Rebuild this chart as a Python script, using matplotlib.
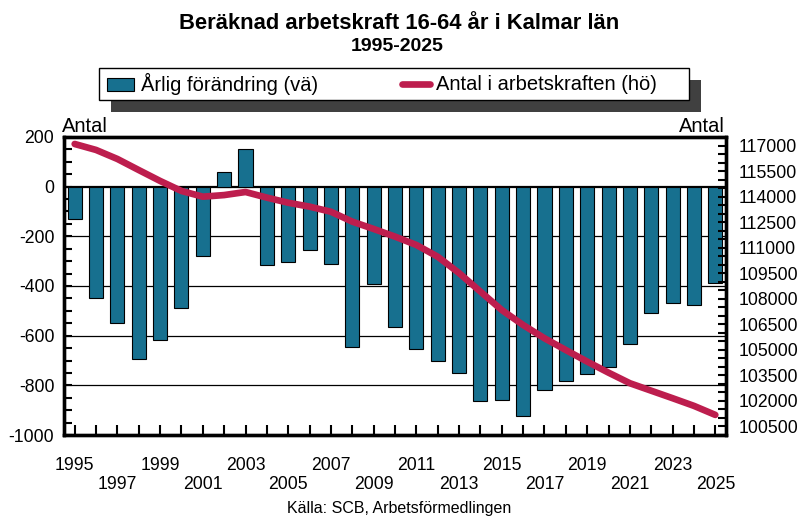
import matplotlib
matplotlib.use("Agg")
import matplotlib.pyplot as plt
from matplotlib.patches import Rectangle
from matplotlib.lines import Line2D
from matplotlib.ticker import MultipleLocator, FixedLocator

plt.rcParams['font.family'] = ['Liberation Sans', 'DejaVu Sans']
plt.rcParams['axes.unicode_minus'] = False

years = list(range(1995, 2026))
change = [-130, -450, -550, -692, -619, -490, -279, 61, 150, -316, -304, -255, -312,
          -644, -391, -567, -652, -703, -749, -862, -858, -923, -818, -781, -756,
          -725, -634, -510, -470, -477, -389]
workforce = [117090, 116740, 116210, 115560, 114920, 114330, 113995, 114090, 114270,
             113940, 113640, 113410, 113110, 112530, 112100, 111650, 111160, 110470,
             109510, 108420, 107340, 106460, 105680, 104990, 104310, 103660, 103040,
             102600, 102160, 101710, 101180]
right_ticks = [100500, 102000, 103500, 105000, 106500, 108000, 109500, 111000,
               112500, 114000, 115500, 117000]

title = "Beräknad arbetskraft 16-64 år i Kalmar län"
subtitle = "1995-2025"
legend_bar = "Årlig förändring (vä)"
legend_line = "Antal i arbetskraften (hö)"
source = "Källa: SCB, Arbetsförmedlingen"
axis_label = "Antal"

BAR = '#17708f'
LINE = '#bd1e4e'

W, H = 803, 518
fig = plt.figure(figsize=(W/100, H/100), dpi=100)
L, R, T, B = 64, 726, 137, 435
ax = fig.add_axes([L/W, 1-B/H, (R-L)/W, (B-T)/H])

ax.bar(years, change, width=0.66, color=BAR, edgecolor='black', linewidth=0.8, zorder=3)
ax.set_xlim(1994.5, 2025.5)
ax.set_ylim(-1000, 200)
for v in [-800, -600, -400, -200]:
    ax.axhline(v, color='black', linewidth=0.9, zorder=1)
ax.axhline(0, color='black', linewidth=1.6, zorder=2)

ax.yaxis.set_major_locator(MultipleLocator(200))
ax.yaxis.set_minor_locator(MultipleLocator(50))
ax.tick_params(axis='y', which='both', direction='in', length=6, width=1.5,
               labelsize=12.7, pad=7)
ax.set_xticks(years)
xlabels = []
for i, y in enumerate(years):
    if i % 4 == 0:
        xlabels.append(str(y))
    elif i % 4 == 2:
        xlabels.append("\n" + str(y))
    else:
        xlabels.append("")
ax.set_xticklabels(xlabels, linespacing=1.15)
ax.tick_params(axis='x', direction='in', length=7, width=1.5, labelsize=12.7, pad=16)
for s in ax.spines.values():
    s.set_linewidth(2.4)

ax2 = ax.twinx()
ax2.plot(years, workforce, color=LINE, linewidth=4.8, solid_capstyle='round',
         solid_joinstyle='round', zorder=4)
ax2.set_ylim(100000, 117500)
ax2.yaxis.set_major_locator(FixedLocator(right_ticks))
ax2.yaxis.set_minor_locator(MultipleLocator(500))
ax2.tick_params(axis='y', which='both', direction='in', length=6, width=1.5,
                labelsize=12.7, pad=9)
for s in ax2.spines.values():
    s.set_linewidth(2.4)

fig.text(62/W, 1-132/H, axis_label, fontsize=14.5, ha='left', va='baseline')
fig.text(725/W, 1-132/H, axis_label, fontsize=14.5, ha='right', va='baseline')

fig.text(399/W, 1-29/H, title, fontsize=15.8, fontweight='bold',
         ha='center', va='baseline')
fig.text(397/W, 1-51/H, subtitle, fontsize=14, fontweight='bold',
         ha='center', va='baseline')

# legend with shadow
lx0, lx1, ly0, ly1 = 99, 689, 68, 100
fig.patches.append(Rectangle(((lx0+12)/W, 1-(ly1+12)/H), (lx1-lx0)/W, (ly1-ly0)/H,
                             transform=fig.transFigure, facecolor='#404040',
                             edgecolor='none', zorder=1))
fig.patches.append(Rectangle((lx0/W, 1-ly1/H), (lx1-lx0)/W, (ly1-ly0)/H,
                             transform=fig.transFigure, facecolor='white',
                             edgecolor='black', linewidth=1.0, zorder=2))
fig.patches.append(Rectangle((107/W, 1-91/H), 27/W, 13/H, transform=fig.transFigure,
                             facecolor=BAR, edgecolor='black', linewidth=0.8, zorder=3))
fig.lines.append(Line2D([402/W, 430/W], [1-84/H, 1-84/H], transform=fig.transFigure,
                        color=LINE, linewidth=4.8, solid_capstyle='round', zorder=3))
fig.text(141/W, 1-84/H, legend_bar, fontsize=14.5, ha='left', va='center', zorder=4)
fig.text(436/W, 1-84/H, legend_line, fontsize=14.5, ha='left', va='center', zorder=4)

fig.text(399/W, 1-508/H, source, fontsize=11.5, ha='center', va='center')

fig.savefig("out.png", dpi=100)
